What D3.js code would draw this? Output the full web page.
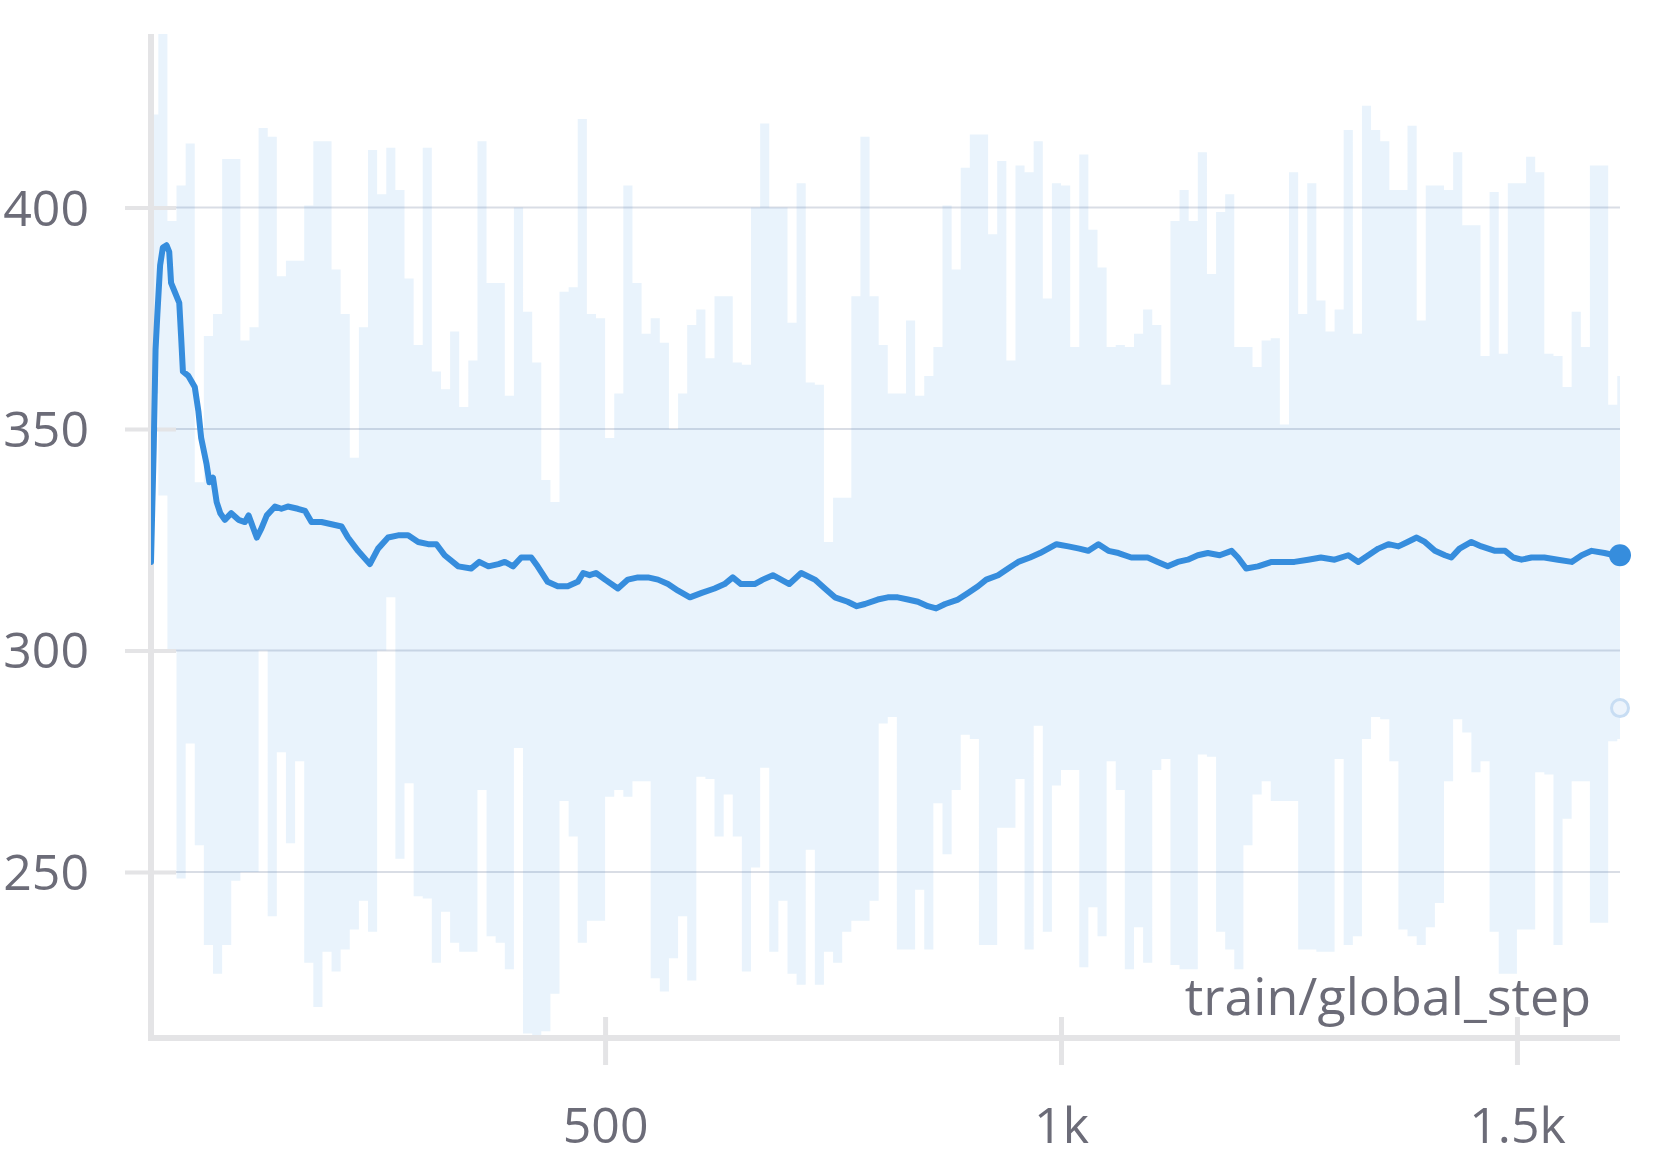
<!DOCTYPE html>
<html>
<head>
<meta charset="utf-8">
<script src="https://cdn.jsdelivr.net/npm/d3@7"></script>
<style>
  body { margin: 0; background: #fff; }
  .chart text { font-family: "Open Sans", sans-serif; fill: #6c6c78; }
</style>
</head>
<body>
<div class="chart"></div>
<script>
'use strict';

// axis ticks
const yTicks = [250, 300, 350, 400];
const xTicks = [500, 1000, 1500];
const xLabel = "train/global_step";

const binSize = 10;
const rawHigh = [
  421, 445, 397, 405, 414.5, 338, 371, 376, 411, 411,
  370, 373, 418, 416, 384.5, 388, 388, 400.5, 415, 415,
  386, 376, 343.5, 373, 413, 403, 413.5, 404, 384, 369,
  413.5, 363, 359, 372, 355, 365.5, 415, 383, 383, 357.5,
  400, 376.5, 365, 338.5, 333.5, 381, 382, 420, 376, 375,
  348, 358, 405, 383, 371.5, 375, 369.5, 350, 358, 373.5,
  377, 366, 380, 380, 365, 364.5, 400, 419, 400, 400,
  374, 405.5, 360.5, 360, 324.5, 334.5, 334.5, 380, 416, 380,
  369, 358, 358, 374.5, 357.5, 362, 368.5, 400.5, 386, 409,
  416.5, 416.5, 394, 410.5, 365.5, 409.5, 408, 415, 379.5, 405.5,
  405, 368.5, 412, 395, 386.5, 368.5, 369, 368.5, 371.5, 377,
  373.5, 360, 397, 404, 397, 412.5, 385, 399, 403, 368.5,
  368.5, 364, 370, 370.5, 351, 408, 376, 405.5, 379, 372,
  377, 417.5, 371.5, 423, 417.5, 415, 404, 404, 418.5, 374.5,
  405, 405, 404, 412.5, 396, 396, 366.5, 403.5, 367, 405.5,
  405.5, 411.5, 408, 367, 366.5, 359.5, 376.5, 368.5, 409.5, 409.5,
  355.5, 362
];
const rawLow = [
  358, 335, 300, 248.5, 279, 256, 233.5, 227, 233.5, 248,
  250, 250, 300, 240, 277, 256.5, 275, 229.5, 219.5, 232,
  227.5, 232.5, 237, 243.5, 236.5, 300, 312, 253, 270, 244.5,
  244, 229.5, 241, 234, 232, 232, 268.5, 235.5, 234, 228,
  278, 213.5, 213, 214, 222.5, 266, 258, 234, 239, 239,
  267, 268.5, 267, 270.5, 270.5, 226, 223, 230.5, 240, 225.5,
  271.5, 271, 258, 267.5, 258, 227.5, 251, 273.5, 232, 243.5,
  227, 224.5, 255, 224.5, 232, 229.5, 236.5, 239, 239, 243.5,
  283.5, 285, 232.5, 232.5, 246, 232.5, 265.5, 254, 268.5, 281,
  280, 233.5, 233.5, 260, 260, 271, 232.5, 283, 236.5, 269.5,
  273, 273, 228.5, 242, 235.5, 275, 268.5, 228, 237.5, 229.5,
  273, 275.5, 229, 228, 228, 276.5, 276, 236.5, 232.5, 228,
  256, 267.5, 270.5, 266, 266, 266, 232.5, 232.5, 232, 232,
  275.5, 233.5, 235.5, 280, 285, 284.5, 275, 237, 235.5, 233.5,
  237.5, 243, 270.5, 284.5, 281.5, 272.5, 275, 236.5, 227, 227,
  237, 237, 272.5, 272, 233.5, 262, 270.5, 270.5, 238.5, 238.5,
  279.5, 280
];
const firstStep = 2;
const lastStep = 1613;
const lastRaw = 287;

// smoothed series
const smoothSteps = [
  2, 5, 7, 9, 12, 15, 19, 22, 24, 28, 33, 35, 37, 43, 50, 54, 57, 63, 66, 70,
  74, 78, 83, 90, 98, 105, 109, 118, 123, 129, 138, 145, 152, 163, 171, 178, 189, 200, 211, 218,
  229, 242, 251, 262, 273, 284, 295, 306, 315, 324, 339, 353, 362, 372, 383, 390, 399, 408, 419, 426,
  437, 448, 459, 470, 476, 483, 490, 500, 514, 525, 536, 547, 558, 569, 580, 593, 606, 620, 631, 640,
  649, 664, 673, 684, 693, 702, 715, 730, 741, 752, 766, 776, 785, 799, 810, 821, 832, 843, 854, 863,
  873, 887, 898, 909, 918, 931, 942, 953, 966, 977, 986, 995, 1008, 1020, 1030, 1041, 1052, 1063, 1077, 1088,
  1095, 1106, 1117, 1128, 1139, 1150, 1161, 1174, 1187, 1194, 1203, 1216, 1231, 1242, 1256, 1271, 1285, 1300, 1315, 1326,
  1337, 1348, 1359, 1370, 1380, 1390, 1399, 1410, 1421, 1428, 1437, 1450, 1461, 1476, 1487, 1496, 1505, 1516, 1530, 1545,
  1560, 1571, 1582, 1596, 1607, 1613
];
const smoothValues = [
  320, 346, 368, 376, 387, 391, 391.5, 390, 383, 381, 378.5, 371, 363, 362, 359.5, 354, 348, 342, 338, 339,
  333.5, 331, 329.5, 331, 329.5, 329, 330.5, 325.5, 327.5, 330.5, 332.5, 332, 332.5, 332, 331.5, 329, 329, 328.5, 328, 325.5,
  322.5, 319.5, 323, 325.5, 326, 326, 324.5, 324, 324, 321.5, 319, 318.5, 320, 319, 319.5, 320, 319, 321, 321, 319,
  315.5, 314.5, 314.5, 315.5, 317.5, 317, 317.5, 316, 314, 316, 316.5, 316.5, 316, 315, 313.5, 312, 313, 314, 315, 316.5,
  315, 315, 316, 317, 316, 315, 317.5, 316, 314, 312, 311, 310, 310.5, 311.5, 312, 312, 311.5, 311, 310, 309.5,
  310.5, 311.5, 313, 314.5, 316, 317, 318.5, 320, 321, 322, 323, 324, 323.5, 323, 322.5, 324, 322.5, 322, 321, 321,
  321, 320, 319, 320, 320.5, 321.5, 322, 321.5, 322.5, 321, 318.5, 319, 320, 320, 320, 320.5, 321, 320.5, 321.5, 320,
  321.5, 323, 324, 323.5, 324.5, 325.5, 324.5, 322.5, 321.5, 321, 323, 324.5, 323.5, 322.5, 322.5, 321, 320.5, 321, 321, 320.5,
  320, 321.5, 322.5, 322, 321.5, 321.5
];

document.addEventListener('DOMContentLoaded', () => {

  const margin = {top: 34, left: 151, right: 41, bottom: 120};
  const w = 1661 - margin.left - margin.right;
  const h = 1158 - margin.top - margin.bottom;
  const blue = "#368ddd";
  const axisGray = "#e4e4e6";
  const fontSize = "50px";

  const svg = d3.select(".chart")
    .append("svg")
    .attr("width", w + margin.left + margin.right)
    .attr("height", h + margin.top + margin.bottom)
    .append("g")
    .attr("transform", `translate(${margin.left}, ${margin.top})`);

  const xScale = d3.scaleLinear().domain([firstStep, lastStep]).range([0, w]);
  const yScale = d3.scaleLinear().domain([212.5, 439.2]).range([h, 0]);

  svg.append("clipPath")
    .attr("id", "plot-clip")
    .append("rect")
    .attr("width", w)
    .attr("height", h);

  // grid lines
  svg.append("g")
    .selectAll("line")
    .data(yTicks)
    .enter()
    .append("line")
    .attr("x1", 0)
    .attr("x2", w)
    .attr("y1", d => yScale(d))
    .attr("y2", d => yScale(d))
    .style("stroke", "#d9dde5")
    .style("stroke-width", 2);

  // raw values as a band of bin highs and lows
  const rawBins = rawHigh.map((hi, i) => ({step: Math.max(firstStep, i * binSize), hi: hi, lo: rawLow[i]}));
  rawBins.push({step: lastStep, hi: rawHigh[rawHigh.length - 1], lo: rawLow[rawLow.length - 1]});
  const rawArea = d3.area()
    .curve(d3.curveStepAfter)
    .x(d => xScale(d.step))
    .y0(d => yScale(d.lo))
    .y1(d => yScale(d.hi));

  svg.append("path")
    .datum(rawBins)
    .attr("clip-path", "url(#plot-clip)")
    .attr("d", rawArea)
    .style("fill", "#3a8ee0")
    .style("fill-opacity", 0.11);

  // axes
  const yAxis = d3.axisLeft(yScale).tickValues(yTicks).tickSize(26).tickSizeOuter(0).tickPadding(36);
  const gy = svg.append("g").call(yAxis);
  gy.select(".domain").remove();
  gy.selectAll(".tick line")
    .attr("x1", 25)
    .style("stroke", axisGray)
    .style("stroke-width", 4);
  gy.selectAll(".tick text")
    .attr("dy", "0.35em")
    .style("font-size", fontSize);

  const xAxis = d3.axisBottom(xScale)
    .tickValues(xTicks)
    .tickFormat(d => d >= 1000 ? (d / 1000) + "k" : d)
    .tickSize(27)
    .tickSizeOuter(0)
    .tickPadding(42);
  const gx = svg.append("g")
    .attr("transform", "translate(0," + h + ")")
    .call(xAxis);
  gx.select(".domain").remove();
  gx.selectAll(".tick line")
    .attr("y1", -21)
    .style("stroke", axisGray)
    .style("stroke-width", 5);
  gx.selectAll(".tick text")
    .style("font-size", fontSize);

  svg.append("line")
    .attr("x1", 0).attr("x2", 0)
    .attr("y1", 0).attr("y2", h + 3)
    .style("stroke", axisGray)
    .style("stroke-width", 6);
  svg.append("line")
    .attr("x1", -3).attr("x2", w)
    .attr("y1", h).attr("y2", h)
    .style("stroke", axisGray)
    .style("stroke-width", 6);

  // smoothed line
  const line = d3.line()
    .x((d, i) => xScale(smoothSteps[i]))
    .y(d => yScale(d));
  svg.append("path")
    .datum(smoothValues)
    .attr("clip-path", "url(#plot-clip)")
    .attr("d", line)
    .style("fill", "none")
    .style("stroke", blue)
    .style("stroke-width", 6)
    .style("stroke-linejoin", "round")
    .style("stroke-linecap", "round");

  // last points
  svg.append("circle")
    .attr("cx", xScale(lastStep))
    .attr("cy", yScale(lastRaw))
    .attr("r", 8.5)
    .style("fill", "#edf4fc")
    .style("stroke", "#c8ddf3")
    .style("stroke-width", 3);
  svg.append("circle")
    .attr("cx", xScale(lastStep))
    .attr("cy", yScale(smoothValues[smoothValues.length - 1]))
    .attr("r", 11)
    .style("fill", blue);

  svg.append("text")
    .attr("x", w - 29)
    .attr("y", 981)
    .attr("text-anchor", "end")
    .style("font-size", "52px")
    .text(xLabel);

});
</script>
</body>
</html>
